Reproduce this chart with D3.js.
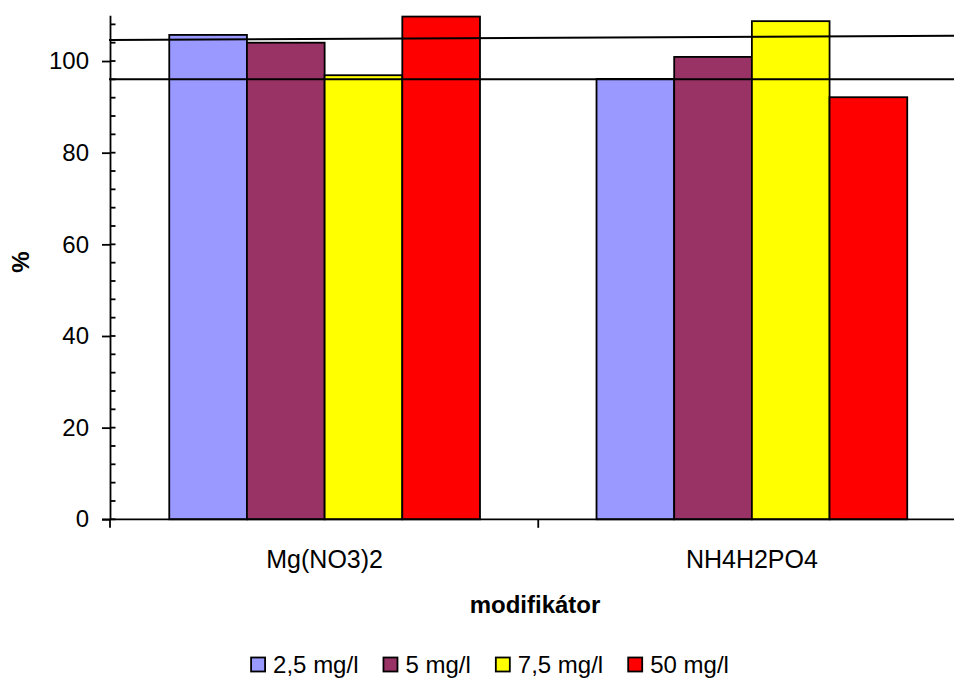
<!DOCTYPE html>
<html>
<head>
<meta charset="utf-8">
<script src="https://cdn.jsdelivr.net/npm/d3@7"></script>
<style>
  html, body { margin: 0; padding: 0; background: #fff; }
  svg { display: block; font-family: "Liberation Sans", Arial, sans-serif; }
</style>
</head>
<body>
<svg id="chart" width="954" height="679"></svg>
<script>
// ---- data ----
const categories = ["Mg(NO3)2", "NH4H2PO4"];
const seriesNames = ["2,5 mg/l", "5 mg/l", "7,5 mg/l", "50 mg/l"];
const seriesColors = ["#9999FF", "#993366", "#FFFF00", "#FF0000"];
const values = [
  [105.7, 96.1],   // 2,5 mg/l
  [104.0, 100.9],  // 5 mg/l
  [96.9, 108.7],   // 7,5 mg/l
  [109.7, 92.1]    // 50 mg/l
];
const yTicks = [0, 20, 40, 60, 80, 100];
const yMinorTicks = [4, 8, 12, 16, 24, 28, 32, 36, 44, 48, 52, 56, 64, 68, 72, 76, 84, 88, 92, 96, 104, 108];
// reference lines: value at left end, value at right end
const refLineStart = [104.6, 96.0];
const refLineEnd = [105.5, 96.0];
const xTitle = "modifikátor";
const yTitle = "%";

// ---- layout ----
const W = 954, H = 679;
const svg = d3.select("#chart");
const axisX = 110;
const plotLeft = 111, plotRight = 965.5;
const y = d3.scaleLinear().domain([0, 110]).range([519.3, 15.2]);
const x0 = d3.scaleBand().domain(categories).range([plotLeft, plotRight]).padding(0);
const x1 = d3.scaleBand().domain(seriesNames).range([0, x0.bandwidth()]).paddingInner(0).paddingOuter(0.75);

// ---- bars ----
const barData = [];
seriesNames.forEach((s, si) => {
  categories.forEach((c, ci) => {
    barData.push({ s, c, v: values[si][ci], color: seriesColors[si] });
  });
});
svg.append("g").selectAll("rect").data(barData).join("rect")
  .attr("x", d => x0(d.c) + x1(d.s))
  .attr("y", d => y(d.v))
  .attr("width", x1.bandwidth())
  .attr("height", d => y(0) - y(d.v))
  .attr("fill", d => d.color)
  .attr("stroke", "#000")
  .attr("stroke-width", 1.8);

// ---- y axis ----
const yAxis = d3.axisLeft(y).tickValues(yTicks).tickSizeInner(8).tickSizeOuter(0).tickPadding(13);
const gy = svg.append("g").attr("transform", `translate(${axisX},0)`).call(yAxis);
gy.select(".domain").attr("stroke", "#000").attr("stroke-width", 1.8);
gy.selectAll(".tick line").attr("stroke", "#000").attr("stroke-width", 1.8);
gy.selectAll(".tick text").attr("font-size", 24).attr("fill", "#000")
  .attr("font-family", "'Liberation Sans', Arial, sans-serif");
// inner part of major ticks (cross) + minor ticks (inside)
svg.append("g").selectAll("line").data(yTicks.concat(yMinorTicks)).join("line")
  .attr("x1", axisX).attr("x2", axisX + 5.5)
  .attr("y1", d => y(d)).attr("y2", d => y(d))
  .attr("stroke", "#000").attr("stroke-width", 1.8);

// ---- x axis ----
svg.append("line")
  .attr("x1", axisX - 8).attr("x2", plotRight)
  .attr("y1", y(0)).attr("y2", y(0))
  .attr("stroke", "#000").attr("stroke-width", 1.8);
const boundaries = categories.map(c => x0(c)).concat([x0(categories[categories.length - 1]) + x0.step()]);
svg.append("g").selectAll("line").data(boundaries).join("line")
  .attr("x1", (d, i) => i === 0 ? axisX : d).attr("x2", (d, i) => i === 0 ? axisX : d)
  .attr("y1", y(0)).attr("y2", y(0) + 8.5)
  .attr("stroke", "#000").attr("stroke-width", 1.8);
svg.append("g").selectAll("text").data(categories).join("text")
  .attr("x", d => x0(d) + x0.bandwidth() / 2)
  .attr("y", y(0) + 48.5)
  .attr("text-anchor", "middle")
  .attr("font-size", 25)
  .attr("fill", "#000")
  .text(d => d);

// ---- reference lines ----
svg.append("g").selectAll("line").data(refLineStart).join("line")
  .attr("x1", axisX - 1).attr("x2", W)
  .attr("y1", d => y(d)).attr("y2", (d, i) => y(refLineEnd[i]))
  .attr("stroke", "#000").attr("stroke-width", 2);

// ---- titles ----
svg.append("text")
  .attr("x", 535).attr("y", 612.7)
  .attr("text-anchor", "middle")
  .attr("font-size", 24).attr("font-weight", "bold")
  .text(xTitle);
svg.append("text")
  .attr("transform", "translate(29,262) rotate(-90)")
  .attr("text-anchor", "middle")
  .attr("font-size", 24).attr("font-weight", "bold")
  .text(yTitle);

// ---- legend ----
const legend = svg.append("g");
const items = legend.selectAll("g").data(seriesNames).join("g");
items.append("rect")
  .attr("width", 14).attr("height", 14)
  .attr("y", 657.5)
  .attr("fill", (d, i) => seriesColors[i])
  .attr("stroke", "#000").attr("stroke-width", 1.8);
items.append("text")
  .attr("x", 22).attr("y", 673)
  .attr("font-size", 24)
  .text(d => d);
let cx = 0;
const gap = 25;
items.each(function () {
  const g = d3.select(this);
  g.attr("transform", `translate(${cx},0)`);
  const w = 22 + g.select("text").node().getComputedTextLength();
  cx += w + gap;
});
const totalW = cx - gap;
legend.attr("transform", `translate(${490 - totalW / 2},0)`);
</script>
</body>
</html>
